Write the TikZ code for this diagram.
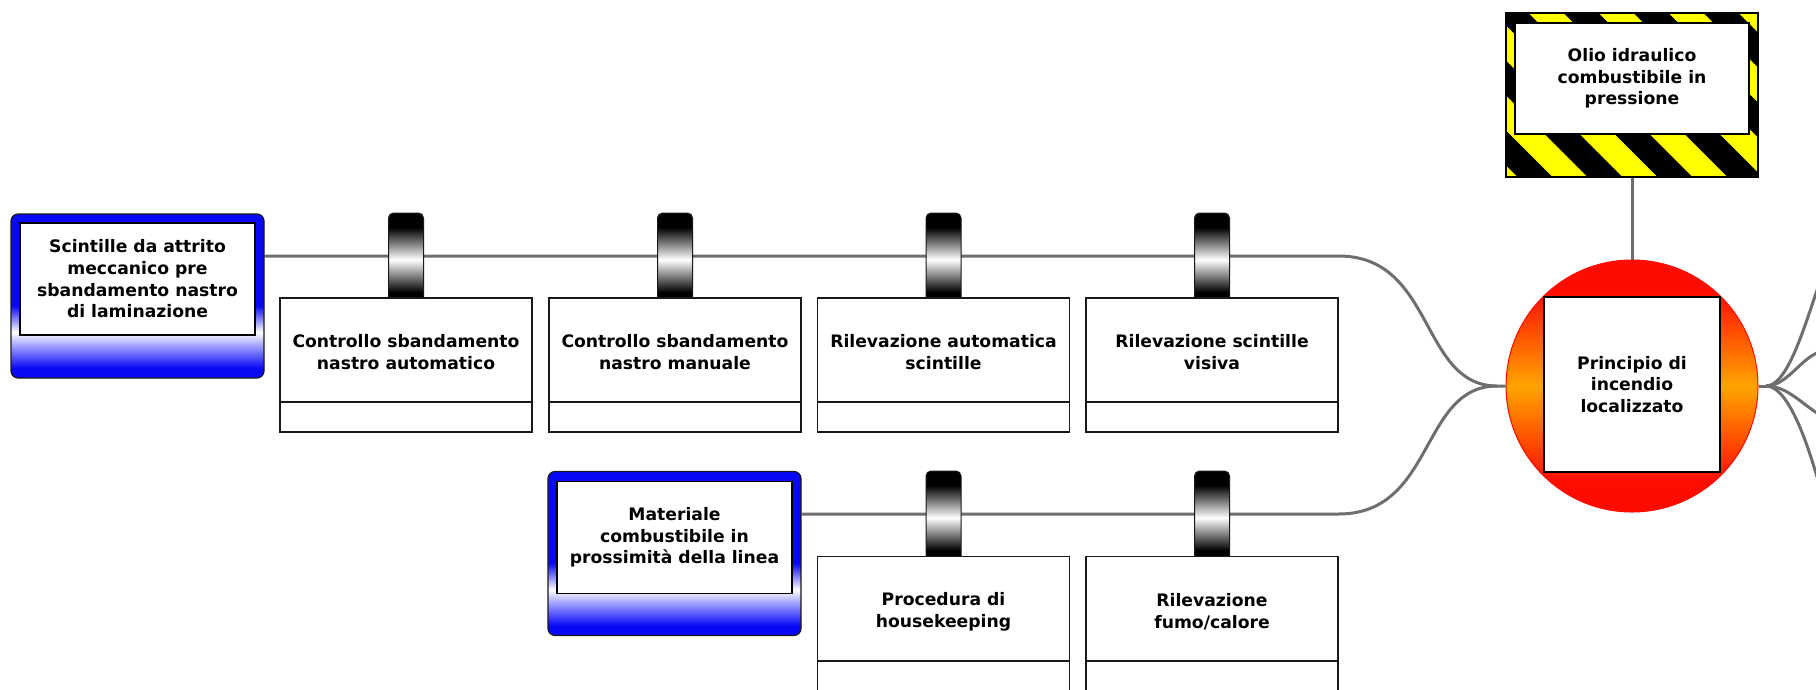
\documentclass[tikz,border=0pt]{standalone}
\usepackage{fontspec}
\setmainfont{DejaVu Sans}
\pgfdeclarelayer{links}
\pgfsetlayers{links,main}

\definecolor{threatblue}{RGB}{8,8,245}
\definecolor{threatpale}{RGB}{140,140,255}
\definecolor{firered}{RGB}{255,12,0}
\definecolor{fireorange}{RGB}{255,165,0}
\definecolor{hazardyellow}{RGB}{255,255,0}
\definecolor{linkgray}{RGB}{110,110,110}
\definecolor{edgedark}{RGB}{25,25,25}

% vertical shadings: stops between 25bp (bottom) and 75bp (top) span the path
\pgfdeclareverticalshading{threatshade}{100bp}{color(0bp)=(threatblue); color(28bp)=(threatblue); color(34bp)=(threatpale); color(39bp)=(white); color(47bp)=(threatblue); color(100bp)=(threatblue)}
\pgfdeclareverticalshading{tabshade}{100bp}{color(0bp)=(black); color(31bp)=(black); color(49bp)=(white); color(67bp)=(black); color(100bp)=(black)}
\pgfdeclareverticalshading{fireshade}{100bp}{color(0bp)=(firered); color(31bp)=(firered); color(50bp)=(fireorange); color(69bp)=(firered); color(100bp)=(firered)}

\tikzset{
  txt/.style={font=\bfseries\fontsize{17.2}{21.7}\selectfont, align=center, text=black, inner sep=0pt},
  threat/.style={draw=edgedark, line width=1.2pt, rounded corners=7pt, shade, shading=threatshade,
    minimum width=253pt, minimum height=164pt, inner sep=0pt},
  threatcore/.style={txt, draw=black, line width=1.6pt, fill=white, minimum width=235pt, minimum height=112pt},
  barriertab/.style={draw=edgedark, line width=1pt, rounded corners=5pt, shade, shading=tabshade,
    minimum width=35pt, minimum height=90pt, inner sep=0pt},
  barrierbox/.style={draw=edgedark, line width=1.4pt, fill=white, minimum width=252pt, minimum height=104pt, inner sep=0pt},
  barrierfoot/.style={barrierbox, minimum height=30pt},
  hazardframe/.style={draw=black, line width=1.5pt, fill=hazardyellow, minimum width=252pt, minimum height=164pt, inner sep=0pt,
    path picture={
      \foreach \k in {-2,...,5}
        \draw[black, line width=24.7pt]
          ([xshift=-95pt+\k*70pt, yshift=30pt]path picture bounding box.north west) -- ++(260,260);
    }},
  hazardcore/.style={txt, draw=black, line width=1.5pt, fill=white, minimum width=234pt, minimum height=111pt},
  fireball/.style={circle, draw=firered, line width=1pt, shade, shading=fireshade, minimum size=252pt, inner sep=0pt},
  eventcore/.style={txt, draw=black, line width=1.8pt, fill=white, minimum width=176pt, minimum height=175pt},
  link/.style={draw=linkgray, line width=3pt}
}

\begin{document}
\begin{tikzpicture}[x=1pt, y=-1pt]
\useasboundingbox (0,0) rectangle (1816,689);

% threats
\node[threat] (t1) at (137.5,296) {};
\node[threatcore] (t1c) at (137.5,279) {Scintille da attrito\\meccanico pre\\sbandamento nastro\\di laminazione};
\node[threat] (t2) at (674.5,553.5) {};
\node[threatcore] (t2c) at (674.5,537.5) {Materiale\\combustibile in\\prossimità della linea};

% barrier tabs (drawn before the boxes, which cover their lower ends)
\node[barriertab] (ta1) at (406,258) {};
\node[barriertab] (ta2) at (675,258) {};
\node[barriertab] (ta3) at (943.5,258) {};
\node[barriertab] (ta4) at (1212,258) {};
\node[barriertab] (tb1) at (943.5,516) {};
\node[barriertab] (tb2) at (1212,516) {};

% barriers on the upper path
\node[barrierbox] (ba1) at (406,350) {};
\node[barrierfoot] (fa1) at (406,417) {};
\node[txt] (la1) at (406,352) {Controllo sbandamento\\nastro automatico};
\node[barrierbox] (ba2) at (675,350) {};
\node[barrierfoot] (fa2) at (675,417) {};
\node[txt] (la2) at (675,352) {Controllo sbandamento\\nastro manuale};
\node[barrierbox] (ba3) at (943.5,350) {};
\node[barrierfoot] (fa3) at (943.5,417) {};
\node[txt] (la3) at (943.5,352) {Rilevazione automatica\\scintille};
\node[barrierbox] (ba4) at (1212,350) {};
\node[barrierfoot] (fa4) at (1212,417) {};
\node[txt] (la4) at (1212,352) {Rilevazione scintille\\visiva};

% barriers on the lower path
\node[barrierbox] (bb1) at (943.5,608.5) {};
\node[barrierfoot] (fb1) at (943.5,676) {};
\node[txt] (lb1) at (943.5,612) {Procedura di\\housekeeping};
\node[barrierbox] (bb2) at (1212,608.5) {};
\node[barrierfoot] (fb2) at (1212,676) {};
\node[txt] (lb2) at (1212,612) {Rilevazione\\fumo/calore};

% hazard
\node[hazardframe] (hz) at (1632,95) {};
\node[hazardcore] (hzc) at (1632,78.5) {Olio idraulico\\combustibile in\\pressione};

% top event
\node[fireball] (ev) at (1632,386) {};
\node[eventcore] (evc) at (1632,384.5) {Principio di\\incendio\\localizzato};

% connectors
\begin{pgfonlayer}{links}
\coordinate (row1) at (0,256);
\coordinate (row2) at (0,514);
\coordinate (jl) at (1497,386);
\coordinate (jr) at (1766,386);
\coordinate (c1) at (1817,290);
\coordinate (c2) at (1817,353);
\coordinate (c3) at (1817,413);
\coordinate (c4) at (1817,477);
\draw[link] (t1.east |- row1) -- (ba4.east |- row1) .. controls (1435,256) and (1420,386) .. (jl) -- (ev.west);
\draw[link] (t2.east |- row2) -- (bb2.east |- row2) .. controls (1435,514) and (1420,386) .. (jl);
\draw[link] (hz.south) -- (ev.north);
\draw[link] (ev.east) -- (jr);
\draw[link] (jr) .. controls (1786,386) and (1802,335) .. (c1);
\draw[link] (jr) .. controls (1786,386) and (1800,360) .. (c2);
\draw[link] (jr) .. controls (1786,386) and (1800,402) .. (c3);
\draw[link] (jr) .. controls (1786,386) and (1804,432) .. (c4);
\end{pgfonlayer}
\end{tikzpicture}
\end{document}
